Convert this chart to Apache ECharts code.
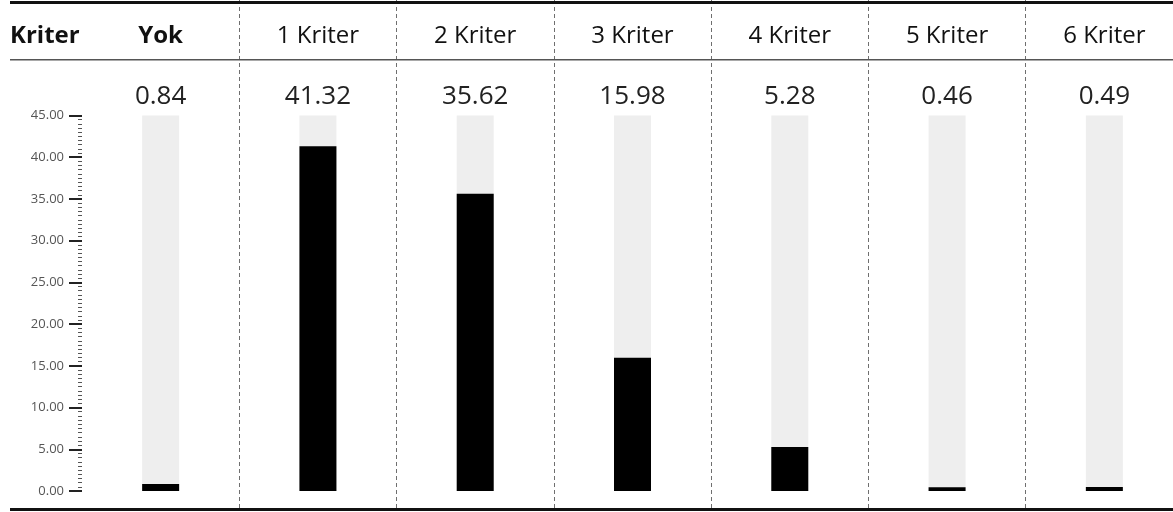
<!DOCTYPE html>
<html>
<head>
<meta charset="utf-8">
<script src="https://cdn.jsdelivr.net/npm/echarts@6/dist/echarts.min.js"></script>
<style>
  html, body { margin: 0; padding: 0; background: #fff; }
  #chart { width: 1173px; height: 512px; }
</style>
</head>
<body>
<div id="chart"></div>
<script>
// Share of cases by number of criteria met
const CATEGORIES = ['Yok', '1 Kriter', '2 Kriter', '3 Kriter', '4 Kriter', '5 Kriter', '6 Kriter'];
const VALUES = [0.84, 41.32, 35.62, 15.98, 5.28, 0.46, 0.49];
const ROW_HEADER = 'Kriter';
const Y_MIN = 0;
const Y_MAX = 45;
const Y_STEP = 5;

const FONT = '"Open Sans", "Noto Sans", sans-serif';

const chart = echarts.init(document.getElementById('chart'), null, { renderer: 'canvas' });

// Header row: the first category is set in bold like the row title
const headerData = CATEGORIES.map((c, i) => ({
  value: c,
  textStyle: { fontWeight: i === 0 ? 'bold' : 'normal' }
}));

// The last column runs slightly past the right edge of the canvas
const PLOT_LEFT = 82;
const PLOT_WIDTH = 1101;

const option = {
  backgroundColor: '#ffffff',
  animation: false,
  grid: [
    { left: PLOT_LEFT, width: PLOT_WIDTH, top: 115.5, bottom: 21, outerBoundsMode: 'none' },
    { left: PLOT_LEFT, width: PLOT_WIDTH, top: 0, bottom: 2, outerBoundsMode: 'none' }
  ],
  xAxis: [
    {
      type: 'category',
      gridIndex: 0,
      position: 'top',
      data: headerData,
      axisLine: { show: false },
      axisTick: { show: false },
      splitLine: { show: false },
      axisLabel: {
        margin: 67,
        verticalAlign: 'middle',
        fontFamily: FONT,
        fontSize: 24,
        color: '#111'
      }
    },
    {
      type: 'category',
      gridIndex: 1,
      data: CATEGORIES,
      axisLine: { show: false },
      axisTick: { show: false },
      axisLabel: { show: false },
      splitLine: {
        show: true,
        interval: (index) => index !== 0,
        lineStyle: { color: '#6f6f6f', width: 1, type: [4, 3] }
      }
    }
  ],
  yAxis: [
    {
      type: 'value',
      gridIndex: 0,
      min: Y_MIN,
      max: Y_MAX,
      interval: Y_STEP,
      axisLine: { show: false },
      splitLine: { show: false },
      axisTick: { show: true, length: 13, lineStyle: { color: '#222', width: 2 } },
      minorTick: { show: true, splitNumber: 10, length: 4, lineStyle: { color: '#555', width: 1 } },
      axisLabel: {
        margin: 18,
        fontFamily: FONT,
        fontSize: 13,
        color: '#555',
        formatter: (v) => v.toFixed(2)
      }
    },
    {
      type: 'value',
      gridIndex: 1,
      show: false
    }
  ],
  series: [
    {
      // full-scale track behind each bar, carrying the value label
      type: 'bar',
      xAxisIndex: 0,
      yAxisIndex: 0,
      data: CATEGORIES.map(() => Y_MAX),
      barWidth: 37,
      barGap: '-100%',
      itemStyle: { color: '#eeeeee' },
      silent: true,
      label: {
        show: true,
        position: 'top',
        distance: 6,
        fontFamily: FONT,
        fontSize: 26,
        color: '#222',
        formatter: (p) => VALUES[p.dataIndex].toFixed(2)
      },
      z: 1
    },
    {
      type: 'bar',
      xAxisIndex: 0,
      yAxisIndex: 0,
      data: VALUES,
      barWidth: 37,
      barGap: '-100%',
      itemStyle: { color: '#000000' },
      z: 2
    }
  ],
  graphic: [
    { type: 'rect', shape: { x: 10, y: 1, width: 1163, height: 3 }, style: { fill: '#111' }, z: 10 },
    { type: 'rect', shape: { x: 10, y: 59, width: 1163, height: 1.5 }, style: { fill: '#555' }, z: 10 },
    { type: 'rect', shape: { x: 10, y: 508, width: 1163, height: 3 }, style: { fill: '#111' }, z: 10 },
    {
      type: 'text',
      left: 10,
      top: 24,
      style: {
        text: ROW_HEADER,
        font: 'bold 24px ' + FONT,
        fill: '#111'
      },
      z: 10
    }
  ]
};

chart.setOption(option);
</script>
</body>
</html>
